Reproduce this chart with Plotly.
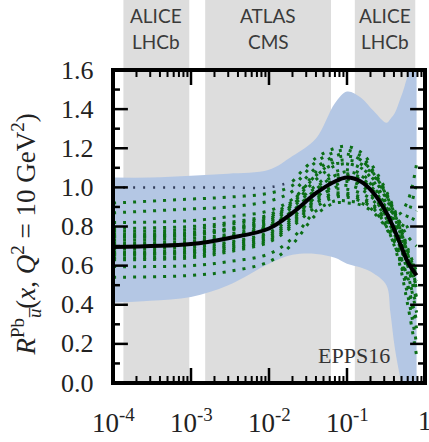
import plotly.graph_objects as go
import math

# ---- data -------------------------------------------------------------
# x grid of the EPPS16 curves
gx = [1e-4, 1e-3, 3e-3, 0.01, 0.02, 0.04, 0.07, 0.1, 0.15, 0.22, 0.32, 0.45, 0.6, 0.78]

central = [0.695, 0.71, 0.74, 0.79, 0.87, 0.97, 1.03, 1.05, 1.03, 0.97, 0.87, 0.74, 0.62, 0.55]

# one error set drawn in dark slate where it stays flat at low x
err_flat = [1.00, 1.00, 1.00, 1.00, 1.03, 1.15, 1.20, 1.21, 1.18, 1.10, 0.98, 0.84, 0.69, 0.57]

# remaining error sets
err_sets = [
    [0.92, 0.94, 0.95, 0.97, 1.01, 1.13, 1.18, 1.19, 1.16, 1.08, 0.97, 0.83, 0.68, 0.55],
    [0.87, 0.89, 0.90, 0.93, 0.98, 1.10, 1.16, 1.17, 1.14, 1.07, 0.96, 0.82, 0.66, 0.52],
    [0.82, 0.83, 0.85, 0.88, 0.94, 1.06, 1.12, 1.12, 1.10, 1.04, 0.94, 0.80, 0.64, 0.50],
    [0.79, 0.80, 0.82, 0.86, 0.93, 1.08, 1.15, 1.16, 1.14, 1.07, 0.96, 0.82, 0.66, 0.48],
    [0.775, 0.785, 0.81, 0.85, 0.92, 1.06, 1.13, 1.14, 1.12, 1.06, 0.95, 0.84, 0.75, 0.70],
    [0.76, 0.77, 0.79, 0.84, 0.91, 1.01, 1.08, 1.09, 1.07, 1.01, 0.91, 0.77, 0.60, 0.42],
    [0.75, 0.76, 0.785, 0.83, 0.91, 1.04, 1.11, 1.12, 1.10, 1.03, 0.92, 0.78, 0.61, 0.44],
    [0.745, 0.755, 0.78, 0.82, 0.90, 1.00, 1.06, 1.07, 1.05, 0.99, 0.90, 0.86, 0.93, 1.12],
    [0.73, 0.74, 0.76, 0.81, 0.88, 0.98, 1.04, 1.06, 1.04, 0.98, 0.88, 0.74, 0.56, 0.36],
    [0.715, 0.725, 0.75, 0.80, 0.87, 0.97, 1.03, 1.04, 1.02, 0.97, 0.88, 0.80, 0.80, 0.88],
    [0.705, 0.715, 0.745, 0.80, 0.88, 0.99, 1.06, 1.08, 1.06, 1.00, 0.90, 0.76, 0.63, 0.58],
    [0.685, 0.695, 0.72, 0.77, 0.85, 0.95, 1.01, 1.03, 1.01, 0.95, 0.85, 0.70, 0.50, 0.28],
    [0.67, 0.68, 0.71, 0.76, 0.84, 0.95, 0.99, 0.99, 0.97, 0.93, 0.84, 0.72, 0.60, 0.50],
    [0.66, 0.67, 0.70, 0.75, 0.83, 0.94, 1.00, 1.01, 0.99, 0.94, 0.85, 0.73, 0.62, 0.60],
    [0.655, 0.665, 0.69, 0.74, 0.82, 0.93, 0.97, 0.97, 0.95, 0.91, 0.82, 0.66, 0.45, 0.20],
    [0.64, 0.65, 0.68, 0.73, 0.81, 0.92, 0.96, 0.96, 0.94, 0.90, 0.83, 0.78, 0.86, 1.02],
    [0.63, 0.64, 0.67, 0.72, 0.80, 0.90, 0.95, 0.95, 0.93, 0.89, 0.80, 0.64, 0.40, 0.14],
    [0.595, 0.60, 0.62, 0.66, 0.74, 0.88, 0.93, 0.93, 0.92, 0.88, 0.80, 0.68, 0.54, 0.40],
    [0.54, 0.55, 0.57, 0.62, 0.71, 0.86, 0.92, 0.92, 0.91, 0.87, 0.79, 0.66, 0.50, 0.32],
]

# uncertainty band
bx = [1e-4, 3e-4, 1e-3, 3e-3, 0.01, 0.02, 0.04, 0.07, 0.1, 0.15, 0.22, 0.32,
      0.36, 0.41, 0.48, 0.55, 0.62, 0.78]
band_hi = [1.05, 1.05, 1.06, 1.07, 1.09, 1.16, 1.25, 1.43, 1.49, 1.46, 1.39, 1.33,
           1.35, 1.38, 1.45, 1.52, 1.60, 1.90]
band_lo = [0.41, 0.42, 0.44, 0.50, 0.61, 0.655, 0.66, 0.64, 0.61, 0.59, 0.56, 0.50,
           0.36, 0.18, 0.03, -0.08, -0.15, -0.30]

# kinematic reach of the experiments
regions = [
    ("ALICE", "LHCb", 1.36e-4, 9.5e-4),
    ("ATLAS", "CMS", 1.52e-3, 0.0624),
    ("ALICE", "LHCb", 0.126, 0.75),
]

x_ticks = [1e-4, 1e-3, 1e-2, 1e-1, 1]
x_ticktext = ["10<sup>-4</sup>", "10<sup>-3</sup>", "10<sup>-2</sup>", "10<sup>-1</sup>", "1"]
y_ticks = [0.0, 0.2, 0.4, 0.6, 0.8, 1.0, 1.2, 1.4, 1.6]
y_minor = [0.1, 0.3, 0.5, 0.7, 0.9, 1.1, 1.3, 1.5]

# ---- figure -----------------------------------------------------------
XMIN, XMAX = -4, 0
YMIN, YMAX = 0.0, 1.6
SERIF = "Liberation Serif"
SANS = "Lato"
GREEN = "rgb(12,110,22)"
AX = "black"

# page geometry
L, R, T, B = 113, 2, 70, 59
W, H = 429, 442
plot_w = W - L - R
plot_h = H - T - B
top_paper = 1 + T / plot_h

fig = go.Figure()

fig.add_trace(go.Scatter(x=bx, y=band_hi, mode="lines", line=dict(width=0, shape="spline"),
                         hoverinfo="skip", showlegend=False))
fig.add_trace(go.Scatter(x=bx, y=band_lo, mode="lines", line=dict(width=0, shape="spline"),
                         fill="tonexty", fillcolor="rgb(180,199,228)",
                         hoverinfo="skip", showlegend=False))

for ys in err_sets:
    fig.add_trace(go.Scatter(x=gx, y=ys, mode="lines",
                             line=dict(color=GREEN, width=3, dash="3px,7px", shape="spline"),
                             hoverinfo="skip", showlegend=False))

# flat part in slate, then joining the green bundle
split = 5
fig.add_trace(go.Scatter(x=gx[:split], y=err_flat[:split], mode="lines",
                         line=dict(color="rgb(50,62,90)", width=2.5, dash="2px,8px", shape="spline"),
                         hoverinfo="skip", showlegend=False))
fig.add_trace(go.Scatter(x=gx[split - 1:], y=err_flat[split - 1:], mode="lines",
                         line=dict(color=GREEN, width=3, dash="3px,7px", shape="spline"),
                         hoverinfo="skip", showlegend=False))

fig.add_trace(go.Scatter(x=gx, y=central, mode="lines",
                         line=dict(color="black", width=4, shape="spline"),
                         hoverinfo="skip", showlegend=False))

# ---- inward ticks and frame, one short trace per tick -----------------
dy_major = 15 / plot_h * (YMAX - YMIN)
dy_minor = 7 / plot_h * (YMAX - YMIN)


def x_at(px_from_left):
    return 10 ** (XMIN + px_from_left / plot_w * (XMAX - XMIN))


def add_seg(xs, ys, w):
    fig.add_trace(go.Scatter(x=xs, y=ys, mode="lines", line=dict(color=AX, width=w),
                             hoverinfo="skip", showlegend=False))


minor_x = [m * 10 ** e for e in range(-4, 0) for m in range(2, 10)]
for v in x_ticks[1:-1]:
    add_seg([v, v], [YMIN, YMIN + dy_major], 2.5)
    add_seg([v, v], [YMAX - dy_major, YMAX], 2.5)
for v in minor_x:
    add_seg([v, v], [YMIN, YMIN + dy_minor], 2)
    add_seg([v, v], [YMAX - dy_minor, YMAX], 2)
for vals, ln in ((y_ticks[1:-1], 15), (y_minor, 7)):
    for v in vals:
        add_seg([10 ** XMIN, x_at(ln)], [v, v], 2.5)
        add_seg([x_at(plot_w - ln), 10 ** XMAX], [v, v], 2.5)

# frame (lines are clipped to the plot area, so half the width shows)
add_seg([10 ** XMIN, 10 ** XMAX, 10 ** XMAX, 10 ** XMIN, 10 ** XMIN],
        [YMIN, YMIN, YMAX, YMAX, YMIN], 4)


def to_paper(v):
    return (math.log10(v) - XMIN) / (XMAX - XMIN)


def y_paper(v):
    return (v - YMIN) / (YMAX - YMIN)


shapes = []
annotations = []

# shaded experiment regions, reaching the top of the page
for line1, line2, x0, x1 in regions:
    p0, p1 = to_paper(x0), to_paper(x1)
    shapes.append(dict(type="rect", xref="paper", yref="paper", x0=p0, x1=p1,
                       y0=0, y1=top_paper, fillcolor="rgb(221,221,221)",
                       line=dict(width=0), layer="below"))
    xc = (p0 + p1) / 2
    for txt, ypx in ((line1, 15), (line2, 42)):
        annotations.append(dict(text=txt, xref="paper", yref="paper", x=xc,
                                y=(H - B - ypx) / plot_h, showarrow=False,
                                xanchor="center", yanchor="middle",
                                font=dict(family=SANS, size=19, color="#3a3a3a")))

# tick labels
for v, txt in zip(x_ticks, x_ticktext):
    annotations.append(dict(text=txt, xref="paper", yref="paper", x=to_paper(v),
                            y=(H - B - 421) / plot_h, showarrow=False,
                            xanchor="center", yanchor="middle",
                            font=dict(family=SERIF, size=27, color="#222")))
for v in y_ticks:
    annotations.append(dict(text=f"{v:.1f}", xref="paper", yref="paper",
                            x=(96 - L) / plot_w, y=y_paper(v), showarrow=False,
                            xanchor="right", yanchor="middle",
                            font=dict(family=SERIF, size=26, color="#222")))

annotations.append(dict(text="EPPS16", xref="paper", yref="paper",
                        x=(356 - L) / plot_w, y=(H - B - 355) / plot_h,
                        showarrow=False, xanchor="center", yanchor="middle",
                        font=dict(family=SERIF, size=22, color="#333333")))

annotations.append(dict(
    text="<i>R</i><sup>Pb</sup><sub><i>u̅</i></sub>(<i>x</i>, <i>Q</i><sup>2</sup> = 10 GeV<sup>2</sup>)",
    xref="paper", yref="paper", x=(25 - L) / plot_w, y=(H - B - 235) / plot_h,
    textangle=-90, showarrow=False, xanchor="center", yanchor="middle",
    font=dict(family=SERIF, size=27, color="#222")))

fig.update_layout(
    width=W, height=H,
    margin=dict(l=L, r=R, t=T, b=B, pad=0),
    paper_bgcolor="white", plot_bgcolor="rgba(0,0,0,0)",
    shapes=shapes, annotations=annotations,
    xaxis=dict(type="log", range=[XMIN, XMAX], showticklabels=False, ticks="",
               showline=True, linecolor=AX, linewidth=2, mirror=True,
               showgrid=False, zeroline=False),
    yaxis=dict(range=[YMIN, YMAX], showticklabels=False, ticks="",
               showline=True, linecolor=AX, linewidth=2, mirror=True,
               showgrid=False, zeroline=False),
)

fig.write_html("out.html")
